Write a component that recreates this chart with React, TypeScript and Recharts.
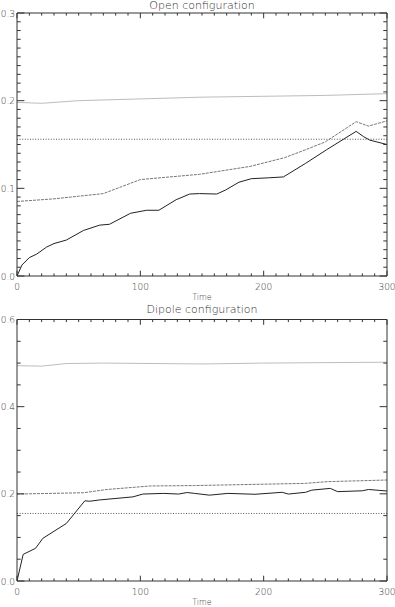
import React from 'react';
import { LineChart, Line, XAxis, YAxis } from 'recharts';

// ---------- tick values ----------
const timeTicks = [0, 10, 20, 30, 40, 50, 60, 70, 80, 90, 100, 110, 120, 130, 140, 150, 160, 170, 180, 190, 200, 210, 220, 230, 240, 250, 260, 270, 280, 290, 300];
const openYTicks = [0, 0.01, 0.02, 0.03, 0.04, 0.05, 0.06, 0.07, 0.08, 0.09, 0.1, 0.11, 0.12, 0.13, 0.14, 0.15, 0.16, 0.17, 0.18, 0.19, 0.2, 0.21, 0.22, 0.23, 0.24, 0.25, 0.26, 0.27, 0.28, 0.29, 0.3];
const dipoleYTicks = [0, 0.05, 0.1, 0.15, 0.2, 0.25, 0.3, 0.35, 0.4, 0.45, 0.5, 0.55, 0.6];

// ---------- Open configuration ----------
const openSolidTime = [0, 4, 10, 16, 24, 30, 40, 54, 67, 75, 92, 105, 115, 129, 140, 148, 162, 169, 180, 190, 204, 216, 234, 251, 275, 281, 286, 300];
const openSolidValue = [0, 0.0125, 0.021, 0.025, 0.033, 0.037, 0.041, 0.052, 0.058, 0.059, 0.0715, 0.075, 0.075, 0.087, 0.0935, 0.094, 0.0935, 0.098, 0.107, 0.111, 0.112, 0.113, 0.1285, 0.144, 0.165, 0.159, 0.155, 0.15];

const openDashTime = [0, 30, 50, 70, 85, 100, 148, 189, 217, 234, 250, 275, 285, 300];
const openDashValue = [0.085, 0.088, 0.091, 0.094, 0.102, 0.11, 0.116, 0.125, 0.135, 0.144, 0.153, 0.176, 0.171, 0.177];

const openTopTime = [0, 20, 50, 100, 150, 200, 250, 300];
const openTopValue = [0.198, 0.197, 0.2, 0.202, 0.204, 0.205, 0.206, 0.208];

const openRefTime = [0, 300];
const openRefValue = [0.156, 0.156];

// ---------- Dipole configuration ----------
const dipSolidTime = [0, 5, 15, 21, 40, 55, 59, 67, 94, 102, 119, 131, 138, 144, 156, 171, 193, 215, 220, 234, 239, 254, 260, 280, 285, 300];
const dipSolidValue = [0, 0.061, 0.075, 0.098, 0.132, 0.184, 0.183, 0.186, 0.193, 0.1995, 0.201, 0.1995, 0.203, 0.201, 0.197, 0.201, 0.199, 0.2035, 0.1995, 0.2035, 0.2085, 0.2125, 0.205, 0.207, 0.21, 0.2065];

const dipDashTime = [0, 54, 73, 108, 144, 234, 252, 300];
const dipDashValue = [0.1995, 0.2025, 0.21, 0.218, 0.219, 0.224, 0.228, 0.2317];

const dipTopTime = [0, 20, 40, 70, 150, 200, 300];
const dipTopValue = [0.494, 0.493, 0.499, 0.5, 0.498, 0.5, 0.502];

const dipRefTime = [0, 300];
const dipRefValue = [0.155, 0.155];

const zip = (ts: number[], vs: number[]) => ts.map((t, i) => ({ t, v: vs[i] }));

const FONT = '"DejaVu Sans", sans-serif';
const AXIS = '#333';
const TEXT = '#333';

const xMajor = (v: number) => v % 100 === 0;

const makeXTick = (pos: 'top' | 'bottom') => (props: any) => {
  const { x, y, payload } = props;
  const v = payload.value;
  const major = xMajor(v);
  const len = major ? 5.3 : 2.6;
  const dir = pos === 'bottom' ? -1 : 1;
  return (
    <g>
      <line x1={x} y1={y} x2={x} y2={y + dir * len} stroke={AXIS} strokeWidth={1} />
      {pos === 'bottom' && major ? (
        <text x={x} y={y + 14} textAnchor="middle" fontSize={9} fontWeight={200} fontFamily={FONT} fill={TEXT}>
          {v}
        </text>
      ) : null}
    </g>
  );
};

const makeYTick = (pos: 'left' | 'right', isMajor: (v: number) => boolean) => (props: any) => {
  const { x, y, payload } = props;
  const v = payload.value;
  const major = isMajor(v);
  const len = major ? 7.4 : 3.7;
  const dir = pos === 'left' ? 1 : -1;
  return (
    <g>
      <line x1={x} y1={y} x2={x + dir * len} y2={y} stroke={AXIS} strokeWidth={1} />
      {pos === 'left' && major ? (
        <text x={x - 2} y={y + 3.5} textAnchor="end" fontSize={9} fontWeight={200} fontFamily={FONT} fill={TEXT}>
          {v.toFixed(1)}
        </text>
      ) : null}
    </g>
  );
};

const openMajor = (v: number) => Math.round(v * 100) % 10 === 0;
const dipMajor = (v: number) => Math.round(v * 100) % 20 === 0;

interface PanelProps {
  height: number;
  topH: number;
  bottomH: number;
  yMax: number;
  yTicks: number[];
  isMajor: (v: number) => boolean;
  solid: { t: number; v: number }[];
  dash: { t: number; v: number }[];
  top: { t: number; v: number }[];
  ref0: { t: number; v: number }[];
}

const Panel = ({ height, topH, bottomH, yMax, yTicks, isMajor, solid, dash, top, ref0 }: PanelProps) => (
  <LineChart width={395} height={height} margin={{ top: 0, right: 0, bottom: 0, left: 0 }}>
    <XAxis
      dataKey="t"
      type="number"
      domain={[0, 300]}
      ticks={timeTicks}
      interval={0}
      height={bottomH}
      tickSize={0}
      tickMargin={0}
      tickLine={false}
      axisLine={{ stroke: AXIS }}
      tick={makeXTick('bottom')}
      allowDataOverflow
    />
    <XAxis
      xAxisId="top"
      orientation="top"
      dataKey="t"
      type="number"
      domain={[0, 300]}
      ticks={timeTicks}
      interval={0}
      height={topH}
      tickSize={0}
      tickMargin={0}
      tickLine={false}
      axisLine={{ stroke: AXIS }}
      tick={makeXTick('top')}
      allowDataOverflow
    />
    <YAxis
      type="number"
      domain={[0, yMax]}
      ticks={yTicks}
      interval={0}
      width={17}
      tickSize={0}
      tickMargin={0}
      tickLine={false}
      axisLine={{ stroke: AXIS }}
      tick={makeYTick('left', isMajor)}
      allowDataOverflow
    />
    <YAxis
      yAxisId="right"
      orientation="right"
      type="number"
      domain={[0, yMax]}
      ticks={yTicks}
      interval={0}
      width={8}
      tickSize={0}
      tickMargin={0}
      tickLine={false}
      axisLine={{ stroke: AXIS }}
      tick={makeYTick('right', isMajor)}
      allowDataOverflow
    />
    <Line data={top} dataKey="v" type="linear" dot={false} stroke="#bdbdbd" strokeWidth={1} isAnimationActive={false} />
    <Line data={ref0} dataKey="v" type="linear" dot={false} stroke="#555" strokeWidth={1} strokeDasharray="1 1.6" isAnimationActive={false} />
    <Line data={dash} dataKey="v" type="linear" dot={false} stroke="#777" strokeWidth={1} strokeDasharray="3 1" isAnimationActive={false} />
    <Line data={solid} dataKey="v" type="linear" dot={false} stroke="#222" strokeWidth={1} isAnimationActive={false} />
  </LineChart>
);

const textStyle = (top: number, size: number): React.CSSProperties => ({
  position: 'absolute',
  left: 17,
  width: 370,
  top,
  textAlign: 'center',
  fontFamily: FONT,
  fontWeight: 200,
  fontSize: size,
  lineHeight: `${size}px`,
  color: TEXT,
  whiteSpace: 'nowrap',
});

export default function App() {
  return (
    <div style={{ position: 'absolute', left: 0, top: 0, width: 395, height: 607, background: '#fff', overflow: 'hidden' }}>
      <div style={{ position: 'absolute', left: 0, top: 0 }}>
        <Panel
          height={300}
          topH={13}
          bottomH={24}
          yMax={0.3}
          yTicks={openYTicks}
          isMajor={openMajor}
          solid={zip(openSolidTime, openSolidValue)}
          dash={zip(openDashTime, openDashValue)}
          top={zip(openTopTime, openTopValue)}
          ref0={zip(openRefTime, openRefValue)}
        />
      </div>
      <div style={{ position: 'absolute', left: 0, top: 300 }}>
        <Panel
          height={307}
          topH={19.5}
          bottomH={26}
          yMax={0.6}
          yTicks={dipoleYTicks}
          isMajor={dipMajor}
          solid={zip(dipSolidTime, dipSolidValue)}
          dash={zip(dipDashTime, dipDashValue)}
          top={zip(dipTopTime, dipTopValue)}
          ref0={zip(dipRefTime, dipRefValue)}
        />
      </div>
      <div style={textStyle(0, 11)}>Open configuration</div>
      <div style={textStyle(294, 8)}>Time</div>
      <div style={textStyle(304, 11)}>Dipole configuration</div>
      <div style={textStyle(599, 8)}>Time</div>
    </div>
  );
}
